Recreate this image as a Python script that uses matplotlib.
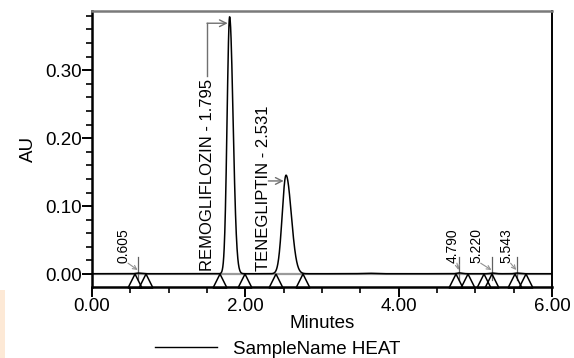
import numpy as np
import matplotlib
matplotlib.use("Agg")
import matplotlib.pyplot as plt
from matplotlib.ticker import MultipleLocator, FormatStrFormatter
from matplotlib.patches import Rectangle
from matplotlib.lines import Line2D

plt.rcParams['font.family'] = ['Liberation Sans', 'DejaVu Sans']

# ---- data ----
peak_rt      = [0.605, 1.795, 2.531, 3.60, 4.790, 5.220, 5.543]
peak_height  = [0.0010, 0.378, 0.145, 0.0007, 0.0012, 0.0010, 0.0010]
peak_sig_l   = [0.03, 0.033, 0.050, 0.08, 0.03, 0.03, 0.03]
peak_sig_r   = [0.04, 0.045, 0.068, 0.08, 0.04, 0.04, 0.04]
baseline_level = 0.0005

# labelled peaks
big_names   = ["REMOGLIFLOZIN - 1.795", "TENEGLIPTIN - 2.531"]
big_label_x = [1.50, 2.24]
small_names = ["0.605", "4.790", "5.220", "5.543"]
small_rt    = [0.605, 4.790, 5.220, 5.543]
small_label_x = [0.41, 4.70, 5.01, 5.40]

# integration start/end markers (triangles)
marker_x = [0.56, 0.71, 1.67, 2.00, 2.40, 2.75, 4.75, 4.90, 5.11, 5.22, 5.52, 5.66]

xlim = (0.0, 6.0)
ylim = (-0.019, 0.387)

# ---- build trace from read peak parameters ----
t = np.linspace(0, 6, 3001)
y = np.full_like(t, baseline_level)
for rt, h, sl, sr in zip(peak_rt, peak_height, peak_sig_l, peak_sig_r):
    s = np.where(t < rt, sl, sr)
    y += h * np.exp(-0.5 * ((t - rt) / s) ** 2)

fig = plt.figure(figsize=(5.74, 3.58), dpi=100)
ax = fig.add_axes([92/574, 1-287/358, (552-92)/574, (287-11)/358])

# integration baseline (grey) and trace (black)
ax.plot(xlim, [0.0, 0.0], color='#9a9a9a', lw=1.6, zorder=1)
ax.plot(t, y, color='black', lw=1.1, zorder=3)

# triangles
tri_y = ylim[0] / 2
ax.plot(marker_x, [tri_y]*len(marker_x), linestyle='none', marker='^',
        markersize=9.5, markerfacecolor='none', markeredgecolor='black',
        markeredgewidth=1.1, zorder=4, clip_on=False)

# big labels
fs_big = 12
ax.text(big_label_x[0], 0.005, big_names[0], rotation=90, ha='center', va='bottom',
        fontsize=fs_big, color='black')
ax.text(big_label_x[1], 0.005, big_names[1], rotation=90, ha='center', va='bottom',
        fontsize=fs_big, color='black')
arrow_col = '#707070'
# leader for REMOGLIFLOZIN
ax.plot([big_label_x[0], big_label_x[0]], [0.291, 0.369], color=arrow_col, lw=1.0)
ax.annotate('', xy=(1.77, 0.369), xytext=(big_label_x[0], 0.369),
            arrowprops=dict(arrowstyle='->', color=arrow_col, lw=1.0,
                            shrinkA=0, shrinkB=0, mutation_scale=12))
# leader for TENEGLIPTIN
ax.annotate('', xy=(2.50, 0.137), xytext=(2.30, 0.137),
            arrowprops=dict(arrowstyle='->', color=arrow_col, lw=1.0,
                            shrinkA=0, shrinkB=0, mutation_scale=12))

# small labels
for name, rt, lx in zip(small_names, small_rt, small_label_x):
    ax.text(lx, 0.017, name, rotation=90, ha='center', va='bottom', fontsize=10,
            color='black')
    ax.plot([rt, rt], [-0.009, 0.025], color='#606060', lw=0.9, zorder=2)
    ax.annotate('', xy=(rt - 0.01, 0.006), xytext=(lx + 0.06, 0.016),
                arrowprops=dict(arrowstyle='->', color='#909090', lw=0.8,
                                shrinkA=0, shrinkB=0, mutation_scale=7))

ax.set_xlim(*xlim)
ax.set_ylim(*ylim)

ax.xaxis.set_major_locator(MultipleLocator(2.0))
ax.xaxis.set_minor_locator(MultipleLocator(0.5))
ax.yaxis.set_major_locator(MultipleLocator(0.10))
ax.yaxis.set_minor_locator(MultipleLocator(0.02))
ax.xaxis.set_major_formatter(FormatStrFormatter('%.2f'))
ax.yaxis.set_major_formatter(FormatStrFormatter('%.2f'))

ax.tick_params(axis='both', which='major', direction='out', length=7, width=1.4,
               labelsize=13.5, pad=1)
ax.tick_params(axis='both', which='minor', direction='out', length=4, width=1.2)
ax.tick_params(axis='y', which='major', pad=0.5)

for side in ['left', 'bottom']:
    ax.spines[side].set_linewidth(1.8)
    ax.spines[side].set_color('black')
ax.spines['right'].set_linewidth(1.4)
ax.spines['top'].set_linewidth(1.8)
ax.spines['top'].set_color('#7a7a7a')

ax.set_xlabel('Minutes', fontsize=13.5, labelpad=0)
ax.set_ylabel('AU', fontsize=13.5, labelpad=6)

# legend
leg_handle = Line2D([], [], color='black', lw=1.0)
fig.legend([leg_handle], ['SampleName HEAT'], loc='center left',
           bbox_to_anchor=(155/574, 1-349/358), frameon=False, fontsize=13.5,
           handlelength=3.3, handletextpad=0.85, borderpad=0, borderaxespad=0)

# faint peach strip at the lower left edge
fig.patches.append(Rectangle((0, 0), 5/574, 68/358, transform=fig.transFigure,
                             facecolor='#fde9d6', edgecolor='none'))

fig.savefig('out.png', dpi=100)
